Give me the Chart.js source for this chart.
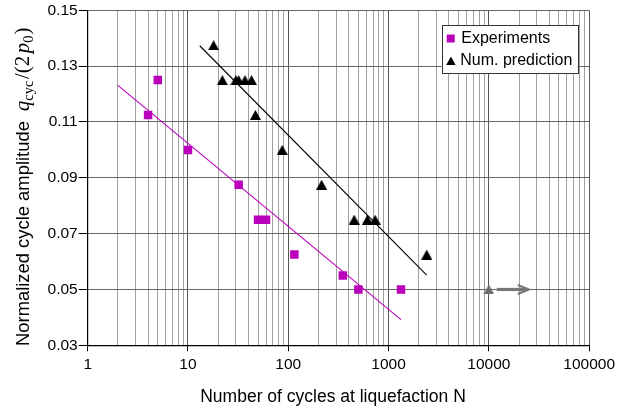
<!DOCTYPE html>
<html>
<head>
<meta charset="utf-8">
<script src="https://cdn.jsdelivr.net/npm/chart.js@4.4.1/dist/chart.umd.min.js"></script>
<style>
  html, body { margin: 0; padding: 0; background: #fff; }
  #wrap { width: 619px; height: 412px; }
</style>
</head>
<body>
<div id="wrap"><canvas id="chart"></canvas></div>
<script>
// values
const expCycles = [4, 5, 10, 32, 50, 60, 115, 350, 500, 1330];
const expAmp = [0.1125, 0.125, 0.1, 0.0875, 0.075, 0.075, 0.0625, 0.055, 0.05, 0.05];
const numCycles = [18, 22, 30, 32, 37, 43, 47, 87, 215, 454, 615, 734, 2400];
const numAmp = [0.1375, 0.125, 0.125, 0.125, 0.125, 0.125, 0.1125, 0.1, 0.0875, 0.075, 0.075, 0.075, 0.0625];
const runoutCycles = [10000];
const runoutAmp = [0.05];
const arrowCycles = [12000, 25000];
const arrowAmp = [0.05, 0.05];
const expFitCycles = [2, 1330];
const expFitAmp = [0.1231, 0.0392];
const numFitCycles = [13.1, 2400];
const numFitAmp = [0.1373, 0.0551];
const decadeLabels = ['1', '10', '100', '1000', '10000', '100000'];
const ampTicks = [0.03, 0.05, 0.07, 0.09, 0.11, 0.13, 0.15];

const MAGENTA = '#bb00bb';
const RUNOUT_GRAY = '#6e6e6e';

const toPoints = (xs, ys) => xs.map((x, i) => ({ x: x, y: ys[i] }));

// log grid: every 1..9 inside each decade
const cycleTicks = [];
decadeLabels.forEach((lbl, i) => {
    const base = Number(lbl);
    if (i === decadeLabels.length - 1) { cycleTicks.push(base); return; }
    for (let k = 1; k <= 9; k++) cycleTicks.push(base * k);
});
const isDecade = (v) => Math.abs(Math.log10(v) - Math.round(Math.log10(v))) < 1e-9;

// triangle marker centred on its bounding box (built-in one sits a bit high)
function makeTriangle(color) {
    const c = document.createElement('canvas');
    c.width = 11;
    c.height = 10;
    const g = c.getContext('2d');
    g.fillStyle = color;
    g.beginPath();
    g.moveTo(5.5, 0);
    g.lineTo(11, 10);
    g.lineTo(0, 10);
    g.closePath();
    g.fill();
    return c;
}

const overlay = {
    id: 'overlay',
    afterDatasetsDraw(chart) {
        const { ctx, scales: { x, y } } = chart;
        // run-out arrow
        const x0 = x.getPixelForValue(arrowCycles[0]);
        const x1 = x.getPixelForValue(arrowCycles[1]);
        const yy = y.getPixelForValue(arrowAmp[0]);
        ctx.save();
        ctx.strokeStyle = '#777';
        ctx.lineWidth = 3.2;
        ctx.lineCap = 'butt';
        ctx.beginPath();
        ctx.moveTo(x0, yy);
        ctx.lineTo(x1 - 1, yy);
        ctx.stroke();
        ctx.lineWidth = 2.2;
        ctx.beginPath();
        ctx.moveTo(x1 - 11, yy - 4.5);
        ctx.lineTo(x1, yy);
        ctx.lineTo(x1 - 11, yy + 4.5);
        ctx.stroke();
        ctx.restore();
    },
    afterDraw(chart) {
        const { ctx, chartArea } = chart;
        ctx.save();
        ctx.fillStyle = '#000';

        // x axis title
        ctx.font = '17.5px "Liberation Sans", Arial, sans-serif';
        ctx.textAlign = 'center';
        ctx.textBaseline = 'middle';
        ctx.fillText('Number of cycles at liquefaction N', 333, 397);

        // y axis title, rotated, with a small formula
        ctx.save();
        ctx.translate(29, 346);
        ctx.rotate(-Math.PI / 2);
        ctx.textAlign = 'left';
        ctx.textBaseline = 'alphabetic';
        ctx.font = '18.4px "Liberation Sans", Arial, sans-serif';
        const sans = 'Normalized cycle amplitude';
        ctx.fillText(sans, 0, 0);
        let pos = ctx.measureText(sans).width + 10;
        const serif = '"Liberation Serif", "DejaVu Serif", serif';
        const parts = [
            { t: 'q', f: 'italic 21px ' + serif, dy: 0 },
            { t: 'cyc', f: '14.5px ' + serif, dy: 4 },
            { t: '/(2', f: '21px ' + serif, dy: 0, pre: 1.5 },
            { t: 'p', f: 'italic 21px ' + serif, dy: 0, pre: 2.5 },
            { t: '0', f: '14.5px ' + serif, dy: 4 },
            { t: ')', f: '21px ' + serif, dy: 0, pre: 1 }
        ];
        parts.forEach((p) => {
            ctx.font = p.f;
            pos += p.pre || 0;
            ctx.fillText(p.t, pos, p.dy);
            pos += ctx.measureText(p.t).width;
        });
        ctx.restore();

        // legend box inside the plot
        const bx = chartArea.right - 147.4;
        const by = chartArea.top + 14.7;
        const bw = 136;
        const bh = 48;
        ctx.fillStyle = '#fff';
        ctx.fillRect(bx, by, bw, bh);
        ctx.strokeStyle = '#333';
        ctx.lineWidth = 1;
        ctx.strokeRect(Math.round(bx) + 0.5, Math.round(by) + 0.5, bw, bh);

        const ds = chart.data.datasets;
        ctx.font = '16px "Liberation Sans", Arial, sans-serif';
        ctx.textAlign = 'left';
        ctx.textBaseline = 'middle';
        // experiments
        ctx.fillStyle = ds[0].backgroundColor;
        ctx.fillRect(bx + 5, by + 9.5, 8, 8);
        ctx.fillStyle = '#000';
        ctx.fillText(ds[0].label, bx + 19.5, by + 13.5);
        // numerical prediction
        const tx = bx + 9.2;
        const ty = by + 36.5;
        ctx.fillStyle = ds[1].backgroundColor;
        ctx.beginPath();
        ctx.moveTo(tx, ty - 5);
        ctx.lineTo(tx + 4.7, ty + 3.5);
        ctx.lineTo(tx - 4.7, ty + 3.5);
        ctx.closePath();
        ctx.fill();
        ctx.fillStyle = '#000';
        ctx.fillText(ds[1].label, bx + 18.5, by + 36);
        ctx.restore();
    }
};

const tickFont = { family: '"Liberation Sans", Arial, sans-serif', size: 15.5 };

new Chart(document.getElementById('chart'), {
    type: 'scatter',
    data: {
        datasets: [
            {
                label: 'Experiments',
                data: toPoints(expCycles, expAmp),
                backgroundColor: MAGENTA,
                borderColor: MAGENTA,
                pointStyle: 'rect',
                pointRadius: 6,
                pointBorderWidth: 0,
                pointHoverRadius: 6
            },
            {
                label: 'Num. prediction',
                data: toPoints(numCycles, numAmp),
                backgroundColor: '#000',
                borderColor: '#000',
                pointStyle: makeTriangle('#000'),
                pointRadius: 6,
                pointBorderWidth: 0,
                pointHoverRadius: 6
            },
            {
                label: 'run-out',
                data: toPoints(runoutCycles, runoutAmp),
                backgroundColor: RUNOUT_GRAY,
                borderColor: RUNOUT_GRAY,
                pointStyle: makeTriangle(RUNOUT_GRAY),
                pointRadius: 6,
                pointBorderWidth: 0
            },
            {
                label: 'fit experiments',
                data: toPoints(expFitCycles, expFitAmp),
                showLine: true,
                borderColor: MAGENTA,
                borderWidth: 1.1,
                pointRadius: 0
            },
            {
                label: 'fit prediction',
                data: toPoints(numFitCycles, numFitAmp),
                showLine: true,
                borderColor: '#000',
                borderWidth: 1.1,
                pointRadius: 0
            }
        ]
    },
    options: {
        responsive: true,
        maintainAspectRatio: false,
        animation: false,
        layout: { padding: { left: 0, top: 9.3, right: 28.3, bottom: 0 } },
        plugins: {
            legend: { display: false },
            tooltip: { enabled: false }
        },
        scales: {
            x: {
                type: 'logarithmic',
                min: 1,
                max: 100000,
                afterBuildTicks: (s) => { s.ticks = cycleTicks.map(v => ({ value: v, major: isDecade(v) })); },
                afterFit: (s) => { s.height = 66.7; },
                ticks: {
                    autoSkip: false,
                    maxRotation: 0,
                    padding: 4,
                    color: '#000',
                    font: tickFont,
                    callback: (v) => isDecade(v) ? decadeLabels[Math.round(Math.log10(v))] : ''
                },
                grid: {
                    color: (c) => (c.tick && isDecade(c.tick.value)) ? '#555' : '#a0a0a0',
                    tickColor: (c) => (c.tick && isDecade(c.tick.value)) ? '#000' : 'rgba(0,0,0,0)',
                    tickLength: 6,
                    lineWidth: 1
                },
                border: { color: '#000', width: 1.2 }
            },
            y: {
                type: 'linear',
                min: 0.03,
                max: 0.15,
                afterBuildTicks: (s) => { s.ticks = ampTicks.map(v => ({ value: v })); },
                afterFit: (s) => { s.width = 87.7; },
                ticks: {
                    padding: 1,
                    color: '#000',
                    font: tickFont,
                    callback: (v) => Number(v).toFixed(2)
                },
                grid: {
                    color: '#666',
                    tickColor: '#000',
                    tickLength: 9,
                    lineWidth: 1
                },
                border: { color: '#000', width: 1.2 }
            }
        }
    },
    plugins: [overlay]
});
</script>
</body>
</html>
